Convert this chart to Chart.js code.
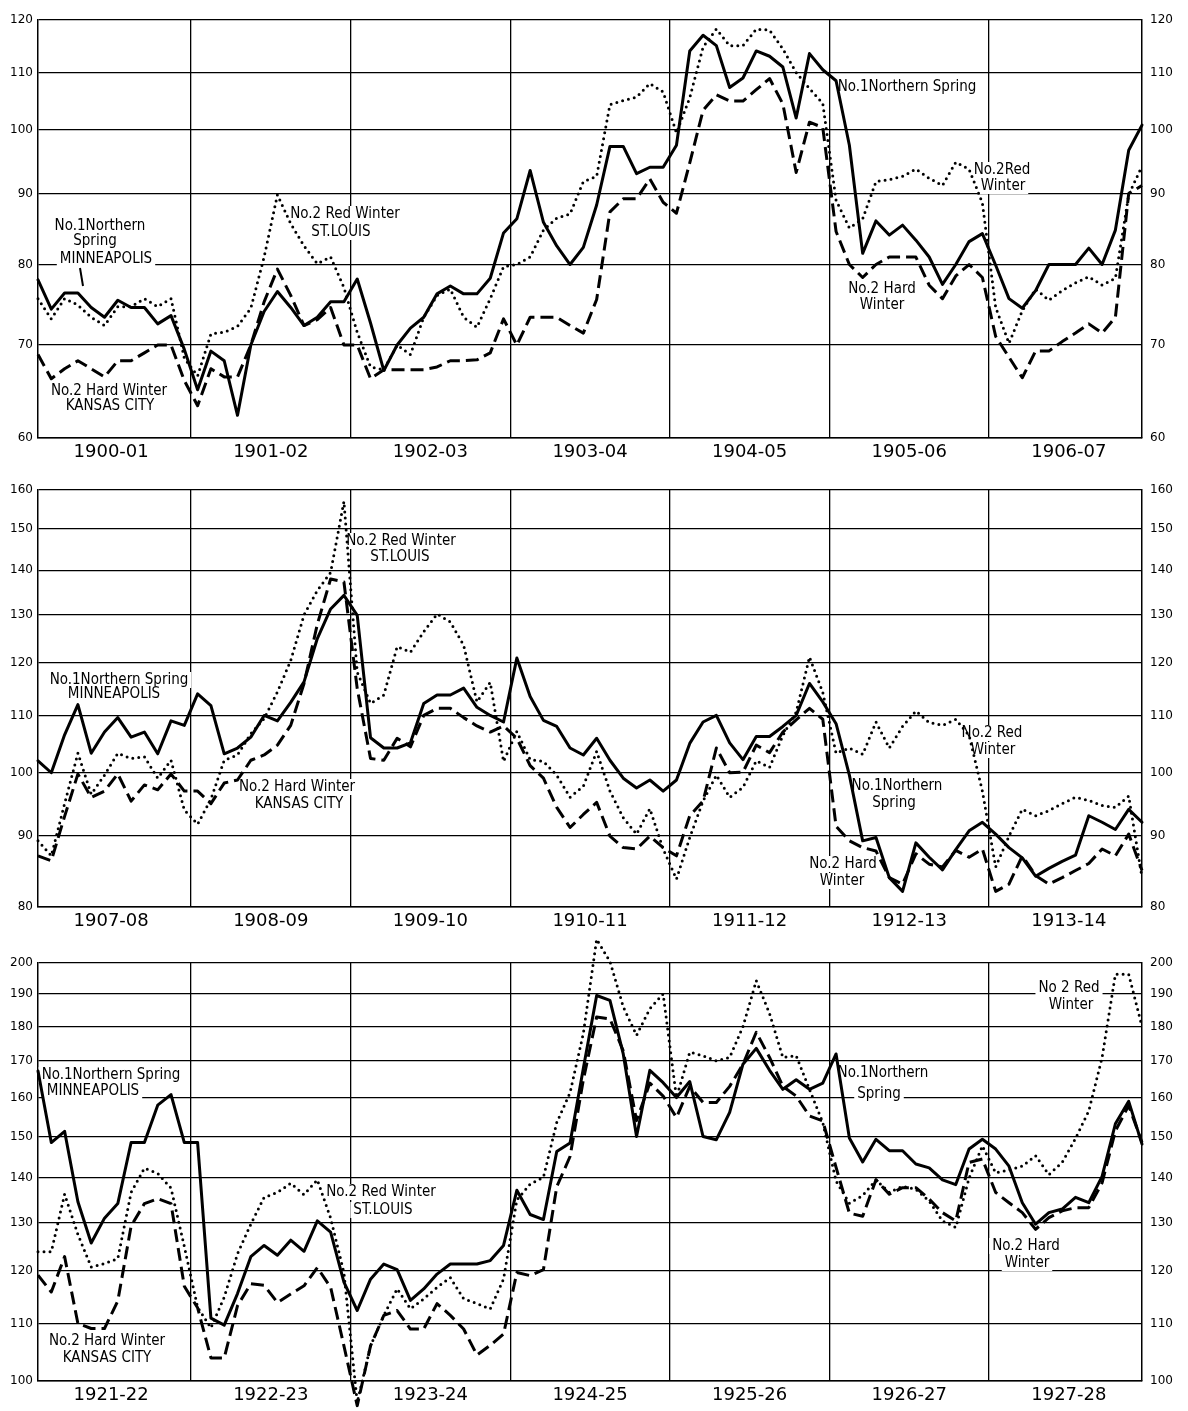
<!DOCTYPE html>
<html>
<head>
<meta charset="utf-8">
<script src="https://cdn.jsdelivr.net/npm/chart.js@4.4.1/dist/chart.umd.min.js"></script>
<style>
  html, body { margin: 0; padding: 0; background: #fff; }
  #wrap { position: relative; width: 1188px; height: 1411px; overflow: hidden; background: #fff; }
  canvas { position: absolute; left: 0; }
</style>
</head>
<body>
<div id="wrap">
  <canvas id="p1" width="1188" height="458" style="top:10px"></canvas>
  <canvas id="p2" width="1188" height="457" style="top:480px"></canvas>
  <canvas id="p3" width="1188" height="486" style="top:925px"></canvas>
</div>
<script>
// Monthly wheat prices (cents per bushel), crop years July-June.
// Solid: No.1 Northern Spring, Minneapolis; dotted: No.2 Red Winter, St. Louis;
// dashed: No.2 Hard Winter, Kansas City.

const yearsP1 = ['1900-01', '1901-02', '1902-03', '1903-04', '1904-05', '1905-06', '1906-07'];
const yearsP2 = ['1907-08', '1908-09', '1909-10', '1910-11', '1911-12', '1912-13', '1913-14'];
const yearsP3 = ['1921-22', '1922-23', '1923-24', '1924-25', '1925-26', '1926-27', '1927-28'];

const ticksP1 = [60, 70, 80, 90, 100, 110, 120];
const ticksP2 = [80, 90, 100, 110, 120, 130, 140, 150, 160];
const ticksP3 = [100, 110, 120, 130, 140, 150, 160, 170, 180, 190, 200];

const springP1 = [
  78, 74.3, 76.3, 76.3, 74.5, 73.3, 75.4, 74.5, 74.5, 72.5, 73.5, 69.5,
  65, 69.3, 68.2, 62.3, 70, 74, 76.5, 74.5, 72.3, 73.3, 75.2, 75.2,
  78.1, 72.6, 67.1, 70, 72, 73.3, 76.2, 77.2, 76.2, 76.2, 78.2, 84.3,
  86.3, 93.5, 85.8, 82.5, 80, 82.3, 88.3, 97.3, 97.3, 93, 94, 94,
  97.5, 114, 117, 115, 107.3, 109, 114, 113, 111, 102, 113.5, 110.5,
  108.5, 97.5, 81.5, 86, 84, 85.4, 83.3, 81, 77.4, 80, 83.1, 84.2,
  79.9, 75.6, 74.4, 76.6, 80, 80, 80, 82.2, 80, 84.7, 96.7, 100.8
];
const redP1 = [
  75.6, 73.1, 75.6, 74.8, 73.3, 72.3, 74.6, 74.6, 75.6, 74.6, 75.6, 68.5,
  66.5, 71.3, 71.5, 72.2, 74.4, 81, 89.8, 85.6, 82.5, 80.1, 81, 77,
  71.5, 67.5, 67.2, 70, 68.9, 73.3, 76, 76.8, 73.3, 72.1, 75.6, 79.7,
  80, 81, 84.7, 86.4, 87, 91.8, 92.6, 104.3, 105, 105.6, 108, 106.5,
  99.5, 105.5, 114.7, 118.2, 115, 115, 118.2, 118, 114.4, 110, 107.1, 104.5,
  89, 85, 86.3, 91.8, 92.1, 92.6, 93.7, 92.3, 91.2, 94.8, 93.7, 88.6,
  74.5, 70.2, 74.1, 76.8, 75.4, 76.6, 77.6, 78.4, 77.3, 78.2, 89.8, 94.2
];
const hardP1 = [
  68.9, 66.2, 67.3, 68.2, 67.3, 66.4, 68.2, 68.2, 69.1, 70, 70, 66,
  63.3, 67.3, 66.4, 66.4, 70, 75.2, 79.4, 76, 72.3, 73, 74.5, 70,
  70, 66.2, 67.2, 67.2, 67.2, 67.2, 67.5, 68.2, 68.2, 68.3, 69.1, 73.1,
  70, 73.3, 73.3, 73.3, 72.3, 71.4, 75.5, 87.3, 89.2, 89.2, 92.2, 88.7,
  87.1, 94.7, 103.3, 106, 104.9, 104.9, 106.9, 108.9, 104.4, 93.2, 101.3, 100.4,
  84.5, 80, 78.3, 80, 81, 81, 81, 77.3, 75.6, 78.5, 80, 78.3,
  71, 68.6, 66.3, 69.3, 69.3, 70.4, 71.4, 72.5, 71.4, 73.3, 90, 91.2
];

const springP2 = [
  102, 100, 106.5, 112, 103.3, 107, 109.6, 106.1, 107, 103.2, 109, 108.2,
  114, 111.8, 103.2, 104.2, 106.1, 110, 109, 112.4, 116.3, 125, 131.3, 134.3,
  129.9, 106, 104.2, 104.2, 105.1, 112.2, 113.8, 113.8, 115.1, 111.5, 110, 108.8,
  121, 113.5, 109.1, 108, 104.2, 103, 105.9, 102.1, 99.1, 97.5, 98.8, 97,
  98.8, 105, 108.8, 110, 105.1, 102.2, 106.2, 106.2, 108, 110, 116, 112.5,
  108.5, 99.6, 89.3, 89.8, 84, 82.1, 89, 86.9, 85.1, 88, 90.8, 92.1,
  90.3, 88.3, 86.8, 84.2, 85.3, 86.3, 87.2, 93.1, 92.1, 91, 94.1, 92.1
];
const redP2 = [
  89.3, 87.1, 95, 103.3, 96.5, 99.6, 103.3, 102.4, 102.7, 99.1, 102.1, 94,
  91.8, 95.7, 102.1, 103, 106.7, 109.4, 114.4, 120.5, 130, 135.4, 139.5, 157,
  118.2, 112.2, 113.8, 123.3, 122.2, 126.4, 130.2, 128.5, 123.6, 112.5, 116.2, 101.9,
  107.1, 102.2, 101.9, 99.6, 96, 97.8, 103.6, 97, 92.8, 90.3, 94.2, 88.1,
  83.8, 89.8, 95.4, 99.6, 96, 97.6, 102, 100.9, 106.4, 110.6, 121.2, 114.3,
  103.3, 104.2, 103.1, 108.8, 104.2, 108, 110.8, 108.7, 108.2, 109.3, 106.4, 97,
  85.5, 90, 94.1, 93.1, 93.9, 95, 96, 95.5, 94.7, 94.4, 96.2, 84
];
const hardP2 = [
  87.1, 86.4, 93, 99.8, 96, 97, 99.8, 95.4, 98, 97.2, 99.8, 97,
  97, 95, 98.3, 98.8, 102.1, 103, 104.7, 108.2, 116, 128, 138, 137.3,
  115, 102.4, 102.1, 105.9, 104.4, 110, 111.3, 111.3, 109.6, 108.1, 107, 108.1,
  105.9, 101.2, 99.1, 94.4, 91.3, 93.3, 95.2, 90, 88.3, 88.1, 90, 88.3,
  87.1, 93.1, 95.4, 104.2, 100, 100.1, 104.7, 103.4, 107, 109.2, 111.3, 109.3,
  91.5, 89.3, 88.3, 87.8, 84, 83.1, 87.4, 85.9, 85.5, 87.9, 86.9, 88.1,
  82.1, 83.1, 87.1, 84.3, 83.1, 84, 85, 86, 88.1, 87.1, 90.3, 85
];

const springP3 = [
  167.2, 148.5, 151.3, 134.6, 125.7, 131, 134.2, 148.5, 148.5, 158, 160.8, 148.5,
  148.5, 111, 109.7, 115.6, 122.9, 125.2, 123.2, 126.3, 124, 130.4, 128, 117.8,
  112.4, 118.4, 121.4, 120.3, 114.3, 116.5, 119.4, 121.4, 121.4, 121.4, 122.1, 125.2,
  137.2, 131.8, 130.7, 146.3, 148.4, 168, 189.5, 188, 172, 150, 167.4, 164,
  160, 164.3, 150, 149.2, 156.1, 169.1, 173.6, 167.4, 162.2, 164.8, 162.2, 163.9,
  172, 149.6, 143.8, 149.3, 146.5, 146.5, 143.3, 142.4, 139.6, 138.5, 146.9, 149.3,
  146.9, 142.8, 134.4, 129.7, 132.2, 133, 135.6, 134.4, 140.4, 153.2, 159, 148.1
];
const redP3 = [
  123.9, 123.9, 136.3, 127.5, 120.8, 121.5, 122.5, 136.7, 142.3, 141.1, 137.7, 125,
  113, 109.2, 114.9, 123.5, 129.7, 135.6, 136.7, 138.8, 136.2, 139.6, 131, 119.7,
  96.5, 106, 111.5, 116.5, 112.7, 114.6, 116.8, 118.7, 114.6, 113.7, 112.7, 118.4,
  135, 138.6, 140.2, 153.5, 161.3, 178, 208, 200.5, 186, 177.4, 185.4, 190,
  160, 172.5, 171.5, 170, 171, 180, 194.2, 183.9, 171, 171.5, 162.2, 153.5,
  139.3, 134.3, 136, 139.6, 136.7, 138.1, 137.4, 134.8, 130.4, 129, 140, 147.7,
  141.2, 141.9, 142.8, 145.3, 140.8, 143.7, 149.5, 156.5, 171, 196.3, 196.3, 180
];
const hardP3 = [
  119.2, 115.9, 122.9, 110, 109.1, 109.1, 114.2, 129.3, 134.2, 135.3, 134.2, 117,
  112.9, 103.9, 103.9, 113.3, 117.5, 117.2, 113.9, 115.5, 117.1, 120.7, 116.8, 106,
  96, 106, 111.5, 112.4, 109, 109, 113.7, 111.5, 109, 104.4, 106.1, 108.1,
  119.7, 119.1, 120.3, 138, 145.1, 164.8, 182.9, 182.3, 172.9, 154, 163.9, 160.4,
  154.8, 163, 158.7, 158.7, 163, 169.1, 178.3, 171, 163, 160.4, 155.2, 153.9,
  142.5, 132.1, 131.4, 139.6, 136.3, 137.8, 137.8, 135.2, 132.2, 130.4, 143.7, 144.5,
  136.7, 134.4, 132.2, 128.6, 131.1, 132.6, 133.3, 133.3, 138.9, 151.4, 157.9, 148.5
];

// Text notes, placed in pixels from the top-left corner of each plot area.
const notesP1 = [
  { text: 'No.1Northern', dx: 62, dy: 206 },
  { text: 'Spring', dx: 57, dy: 221 },
  { text: 'MINNEAPOLIS', dx: 68, dy: 239 },
  { text: 'No.2 Hard Winter', dx: 71, dy: 371 },
  { text: 'KANSAS CITY', dx: 72, dy: 386 },
  { text: 'No.2 Red Winter', dx: 307, dy: 194 },
  { text: 'ST.LOUIS', dx: 303, dy: 212 },
  { text: 'No.1Northern Spring', dx: 869, dy: 67 },
  { text: 'No.2Red', dx: 964, dy: 150 },
  { text: 'Winter', dx: 965, dy: 166 },
  { text: 'No.2 Hard', dx: 844, dy: 269 },
  { text: 'Winter', dx: 844, dy: 285 }
];
const notesP2 = [
  { text: 'No.1Northern Spring', dx: 81, dy: 190 },
  { text: 'MINNEAPOLIS', dx: 76, dy: 204 },
  { text: 'No.2 Hard Winter', dx: 259, dy: 297 },
  { text: 'KANSAS CITY', dx: 261, dy: 314 },
  { text: 'No.2 Red Winter', dx: 363, dy: 51 },
  { text: 'ST.LOUIS', dx: 362, dy: 67 },
  { text: 'No.1Northern', dx: 859, dy: 296 },
  { text: 'Spring', dx: 856, dy: 313 },
  { text: 'No.2 Red', dx: 954, dy: 243 },
  { text: 'Winter', dx: 955, dy: 260 },
  { text: 'No.2 Hard', dx: 805, dy: 374 },
  { text: 'Winter', dx: 804, dy: 391 }
];
const notesP3 = [
  { text: 'No.1Northern Spring', dx: 73, dy: 112 },
  { text: 'MINNEAPOLIS', dx: 55, dy: 128 },
  { text: 'No.2 Hard Winter', dx: 69, dy: 378 },
  { text: 'KANSAS CITY', dx: 69, dy: 395 },
  { text: 'No.2 Red Winter', dx: 343, dy: 229 },
  { text: 'ST.LOUIS', dx: 345, dy: 247 },
  { text: 'No.1Northern', dx: 845, dy: 110 },
  { text: 'Spring', dx: 841, dy: 131 },
  { text: 'No 2 Red', dx: 1031, dy: 25 },
  { text: 'Winter', dx: 1033, dy: 42 },
  { text: 'No.2 Hard', dx: 988, dy: 283 },
  { text: 'Winter', dx: 989, dy: 300 }
];

const NOTE_FONT = '15px "DejaVu Sans Condensed", "DejaVu Sans", sans-serif';
const TICK_FONT = { family: '"DejaVu Sans", sans-serif', size: 12 };
const YEAR_FONT = { family: '"DejaVu Sans", sans-serif', size: 18 };

function notesPlugin(notes, leader) {
  return {
    id: 'panelNotes',
    beforeDatasetsDraw(chart) {
      const { ctx, chartArea } = chart;
      ctx.save();
      ctx.font = NOTE_FONT;
      ctx.textAlign = 'center';
      ctx.textBaseline = 'middle';
      for (const n of notes) {
        const x = chartArea.left + n.dx;
        const y = chartArea.top + n.dy;
        const w = ctx.measureText(n.text).width;
        ctx.fillStyle = '#fff';
        ctx.fillRect(x - w / 2 - 3, y - 8, w + 6, 16);
        ctx.fillStyle = '#000';
        ctx.fillText(n.text, x, y);
      }
      if (leader) {
        ctx.strokeStyle = '#000';
        ctx.lineWidth = 2;
        ctx.beginPath();
        ctx.moveTo(chartArea.left + leader[0], chartArea.top + leader[1]);
        ctx.lineTo(chartArea.left + leader[2], chartArea.top + leader[3]);
        ctx.stroke();
      }
      ctx.restore();
    }
  };
}

function series(values, dash, cap) {
  return {
    data: values.map((v, i) => ({ x: i, y: v })),
    borderColor: '#000',
    borderWidth: 3,
    borderDash: dash,
    borderCapStyle: cap,
    borderJoinStyle: 'round',
    pointRadius: 0,
    tension: 0,
    fill: false,
    clip: false
  };
}

function logAxis(ticks, position) {
  return {
    type: 'logarithmic',
    position: position,
    min: ticks[0],
    max: ticks[ticks.length - 1],
    afterBuildTicks: s => { s.ticks = ticks.map(v => ({ value: v })); },
    afterFit: s => {
      s.width = position === 'left' ? 38 : 46;
      s.paddingTop = 0;
      s.paddingBottom = 0;
    },
    grid: { display: position === 'left', color: '#000', lineWidth: 1.3, drawTicks: false },
    border: { display: true, color: '#000', width: 1.5 },
    ticks: {
      color: '#000',
      font: TICK_FONT,
      padding: position === 'left' ? 5 : 8,
      callback: v => String(v)
    }
  };
}

function drawPanel(id, years, ticks, spring, red, hard, notes, padTop, leader) {
  const centers = years.map((_, k) => 5.5 + 12 * k);
  const bounds = years.slice(1).map((_, k) => 11.5 + 12 * k);
  return new Chart(document.getElementById(id), {
    type: 'line',
    data: {
      datasets: [
        series(red, [0, 6], 'round'),
        series(hard, [13, 6], 'butt'),
        series(spring, [], 'round')
      ]
    },
    options: {
      responsive: false,
      animation: false,
      devicePixelRatio: 1,
      events: [],
      layout: { padding: { top: padTop, left: 0, right: 0, bottom: 0 } },
      plugins: { legend: { display: false }, tooltip: { enabled: false } },
      scales: {
        x: {
          type: 'linear',
          min: 0,
          max: spring.length - 1,
          afterBuildTicks: s => {
            s.ticks = centers.concat(bounds).sort((a, b) => a - b).map(v => ({ value: v }));
          },
          afterFit: s => {
            s.height = 30;
            s.paddingLeft = 0;
            s.paddingRight = 0;
          },
          grid: {
            color: c => (c.tick && bounds.includes(c.tick.value)) ? '#000' : 'rgba(0,0,0,0)',
            lineWidth: 1.3,
            drawTicks: false
          },
          border: { display: true, color: '#000', width: 1.5 },
          ticks: {
            autoSkip: false,
            maxRotation: 0,
            color: '#000',
            font: YEAR_FONT,
            padding: 4,
            callback: v => { const k = centers.indexOf(v); return k >= 0 ? years[k] : ''; }
          }
        },
        y: logAxis(ticks, 'left'),
        y2: logAxis(ticks, 'right')
      }
    },
    plugins: [notesPlugin(notes, leader)]
  });
}

drawPanel('p1', yearsP1, ticksP1, springP1, redP1, hardP1, notesP1, 10, [42, 248, 45, 266]);
drawPanel('p2', yearsP2, ticksP2, springP2, redP2, hardP2, notesP2, 10, null);
drawPanel('p3', yearsP3, ticksP3, springP3, redP3, hardP3, notesP3, 38, null);
</script>
</body>
</html>
